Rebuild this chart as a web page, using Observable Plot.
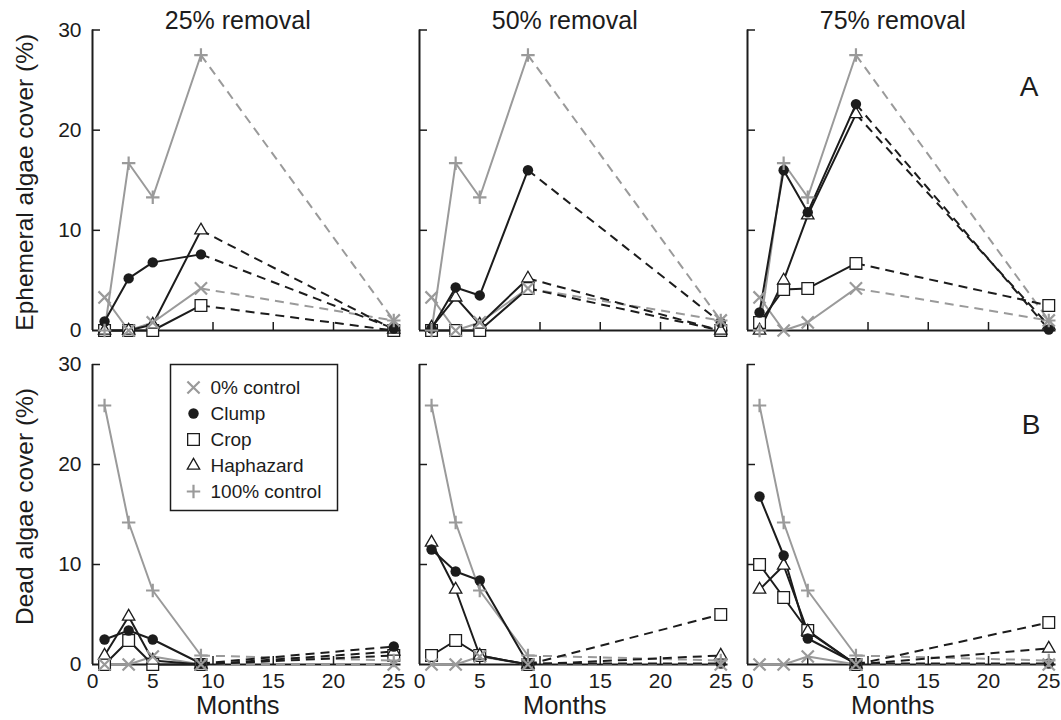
<!DOCTYPE html>
<html><head><meta charset="utf-8">
<script src="https://cdn.jsdelivr.net/npm/d3@7"></script>
<script src="https://cdn.jsdelivr.net/npm/@observablehq/plot@0.6"></script>
<style>
html,body{margin:0;padding:0;background:#fff;overflow:hidden;}
#chart{position:relative;width:1061px;height:720px;overflow:hidden;font-family:"Liberation Sans",Arial,Helvetica,sans-serif;}
#chart svg{position:absolute;overflow:visible;}
</style></head><body><div id="chart"></div>
<script>
// ---------- data ----------
const months = [1, 3, 5, 9, 25];
const removalLevels = ["25% removal", "50% removal", "75% removal"];
const seriesNames = ["0% control", "Clump", "Crop", "Haphazard", "100% control"];
const rowLabels = ["Ephemeral algae cover (%)", "Dead algae cover (%)"];
const panelLetters = ["A", "B"];
const yTicks = [0, 10, 20, 30];
const xTicks = [0, 5, 10, 15, 20, 25];

// A: ephemeral algae cover
const ephControl0 = [3.3, 0, 0.8, 4.2, 1.0];
const ephControl100 = [0, 16.7, 13.3, 27.5, 1.0];
const ephClump = [[0.9, 5.2, 6.8, 7.6, 0.2], [0.2, 4.3, 3.5, 16.0, 0.8], [1.8, 16.0, 11.8, 22.6, 0.1]];
const ephCrop = [[0, 0, 0, 2.5, 0], [0, 0, 0, 4.2, 0], [0.8, 4.1, 4.2, 6.7, 2.5]];
const ephHaphazard = [[0, 0, 0.6, 10.0, 0.1], [0.3, 3.3, 0.6, 5.2, 0], [0, 5.0, 11.5, 21.6, 0.5]];

// B: dead algae cover
const deadControl0 = [0, 0, 0.8, 0, 0];
const deadControl100 = [25.9, 14.2, 7.4, 0.9, 0.4];
const deadClump = [[2.5, 3.4, 2.5, 0.1, 1.8], [11.5, 9.3, 8.4, 0.1, 0.1], [16.8, 10.9, 2.6, 0.1, 0.1]];
const deadCrop = [[0, 2.4, 0, 0, 0.9], [0.9, 2.4, 0.9, 0, 5.0], [10.0, 6.7, 3.4, 0, 4.2]];
const deadHaphazard = [[0.9, 4.8, 0.4, 0, 1.3], [12.2, 7.5, 0.9, 0, 0.9], [7.5, 9.9, 3.3, 0, 1.6]];

// ---------- styles ----------
const INK = "#1c1c1c", GREY = "#9a9a9a";
const FONT = '"Liberation Sans", Arial, Helvetica, sans-serif';
const styles = {
  "0% control":   {line: GREY, symbol: "times",    r: 5.6, fill: "none",  stroke: GREY, sw: 2.2},
  "Clump":        {line: INK,  symbol: "circle",   r: 5.2, fill: INK,     stroke: "none", sw: 0},
  "Crop":         {line: INK,  symbol: "square",   r: 6.6, fill: "white", stroke: INK,  sw: 1.3},
  "Haphazard":    {line: INK,  symbol: "triangle", r: 4.6, fill: "white", stroke: INK,  sw: 1.3},
  "100% control": {line: GREY, symbol: "plus",     r: 4.4, fill: "none",  stroke: GREY, sw: 2.2}
};
const lineOrder = ["0% control", "100% control", "Crop", "Haphazard", "Clump"];
const markerOrder = ["Crop", "Haphazard", "Clump", "0% control", "100% control"];

// ---------- layout ----------
const COLX = [92, 418.5, 747];
const INNER_W = 308.5;
const ROWS = [
  {top: 0,   mT: 29.5, innerH: 300.5, mB: 14},
  {top: 340, mT: 24,   innerH: 300,   mB: 56}
];
const chart = document.getElementById("chart");

function panelValues(row, col) {
  return row === 0
    ? {"0% control": ephControl0, "Clump": ephClump[col], "Crop": ephCrop[col], "Haphazard": ephHaphazard[col], "100% control": ephControl100}
    : {"0% control": deadControl0, "Clump": deadClump[col], "Crop": deadCrop[col], "Haphazard": deadHaphazard[col], "100% control": deadControl100};
}

function makePanel(row, col) {
  const R = ROWS[row];
  const mL = col === 0 ? 92 : 20;
  const mR = 8;
  const vals = panelValues(row, col);
  const table = [];
  for (const s of seriesNames) vals[s].forEach((v, i) => table.push({series: s, month: months[i], value: v}));

  const marks = [];
  // axis lines
  marks.push(Plot.ruleX([0], {stroke: INK, strokeWidth: 2}));
  marks.push(Plot.ruleY([0], {stroke: INK, strokeWidth: 2}));
  // inward ticks (pointing into the plot)
  marks.push(Plot.tickY(yTicks.slice(1), {y: d => d, insetRight: INNER_W - 8, stroke: INK, strokeWidth: 1.5}));
  marks.push(Plot.tickX(xTicks.slice(1), {x: d => d, insetTop: R.innerH - 8, stroke: INK, strokeWidth: 1.5}));
  if (col === 0) {
    marks.push(Plot.axisY({ticks: yTicks, tickSize: 0, tickPadding: 11, fontSize: 21, label: null}));
    marks.push(Plot.text([rowLabels[row]], {frameAnchor: "left", dx: -67, dy: row === 0 ? 2 : -8, rotate: -90,
      textAnchor: "middle", lineAnchor: "middle", fontSize: 24.5, fill: INK}));
  } else {
    marks.push(Plot.axisY({ticks: [], label: null}));
  }
  if (row === 1) {
    marks.push(Plot.axisX({ticks: xTicks, tickSize: 0, tickPadding: 9, fontSize: 21, label: null}));
    marks.push(Plot.text(["Months"], {frameAnchor: "bottom", dx: -9, dy: 31, lineAnchor: "top", fontSize: 25.5, fill: INK}));
  } else {
    marks.push(Plot.axisX({ticks: [], label: null}));
  }
  if (row === 0) {
    marks.push(Plot.text([removalLevels[col]], {frameAnchor: "top", dx: -9, dy: -1, lineAnchor: "bottom", fontSize: 25, fill: INK}));
  }
  if (col === 2) {
    marks.push(Plot.text([panelLetters[row]], {frameAnchor: "top-right", dx: row === 0 ? -17.5 : -15.5, dy: row === 0 ? 46 : 50,
      textAnchor: "end", lineAnchor: "top", fontSize: 28, fill: INK}));
  }
  // data lines: solid up to month 9, dashed afterwards
  for (const s of lineOrder) {
    const st = styles[s];
    const d = table.filter(r => r.series === s);
    marks.push(Plot.line(d.filter(r => r.month <= 9), {x: "month", y: "value", stroke: st.line, strokeWidth: 2}));
    marks.push(Plot.line(d.filter(r => r.month >= 9), {x: "month", y: "value", stroke: st.line, strokeWidth: 2,
      strokeDasharray: "9,6", strokeLinecap: "butt"}));
  }
  // markers
  for (const s of markerOrder) {
    const st = styles[s];
    marks.push(Plot.dot(table.filter(r => r.series === s), {x: "month", y: "value", symbol: st.symbol, r: st.r,
      fill: st.fill, stroke: st.stroke, strokeWidth: st.sw}));
  }

  const svg = Plot.plot({
    width: mL + INNER_W + mR,
    height: R.mT + R.innerH + R.mB,
    marginLeft: mL, marginRight: mR, marginTop: R.mT, marginBottom: R.mB,
    x: {domain: [0, 25.6]},
    y: {domain: [0, 30]},
    style: {fontFamily: FONT, color: INK, background: "transparent", overflow: "visible"},
    marks
  });
  svg.style.left = (COLX[col] - mL) + "px";
  svg.style.top = R.top + "px";
  chart.appendChild(svg);
}

for (let row = 0; row < 2; ++row) for (let col = 0; col < 3; ++col) makePanel(row, col);

// ---------- legend (inside bottom-left panel) ----------
const legendMarks = [Plot.frame({stroke: INK, strokeWidth: 1.5, fill: "white"})];
for (const s of seriesNames) {
  const st = styles[s];
  legendMarks.push(Plot.dot([s], {y: d => d, frameAnchor: "left", dx: 23, symbol: st.symbol, r: st.r,
    fill: st.fill, stroke: st.stroke, strokeWidth: st.sw}));
}
legendMarks.push(Plot.text(seriesNames, {y: d => d, text: d => d, frameAnchor: "left", dx: 40, textAnchor: "start",
  fontSize: 19, fill: INK}));
const legend = Plot.plot({
  width: 169, height: 148, margin: 1,
  y: {type: "point", domain: seriesNames, range: [22, 129], padding: 0, axis: null},
  style: {fontFamily: FONT, color: INK, background: "transparent", overflow: "visible"},
  marks: legendMarks
});
legend.style.left = "169px";
legend.style.top = "363px";
chart.appendChild(legend);
</script>
</body></html>
